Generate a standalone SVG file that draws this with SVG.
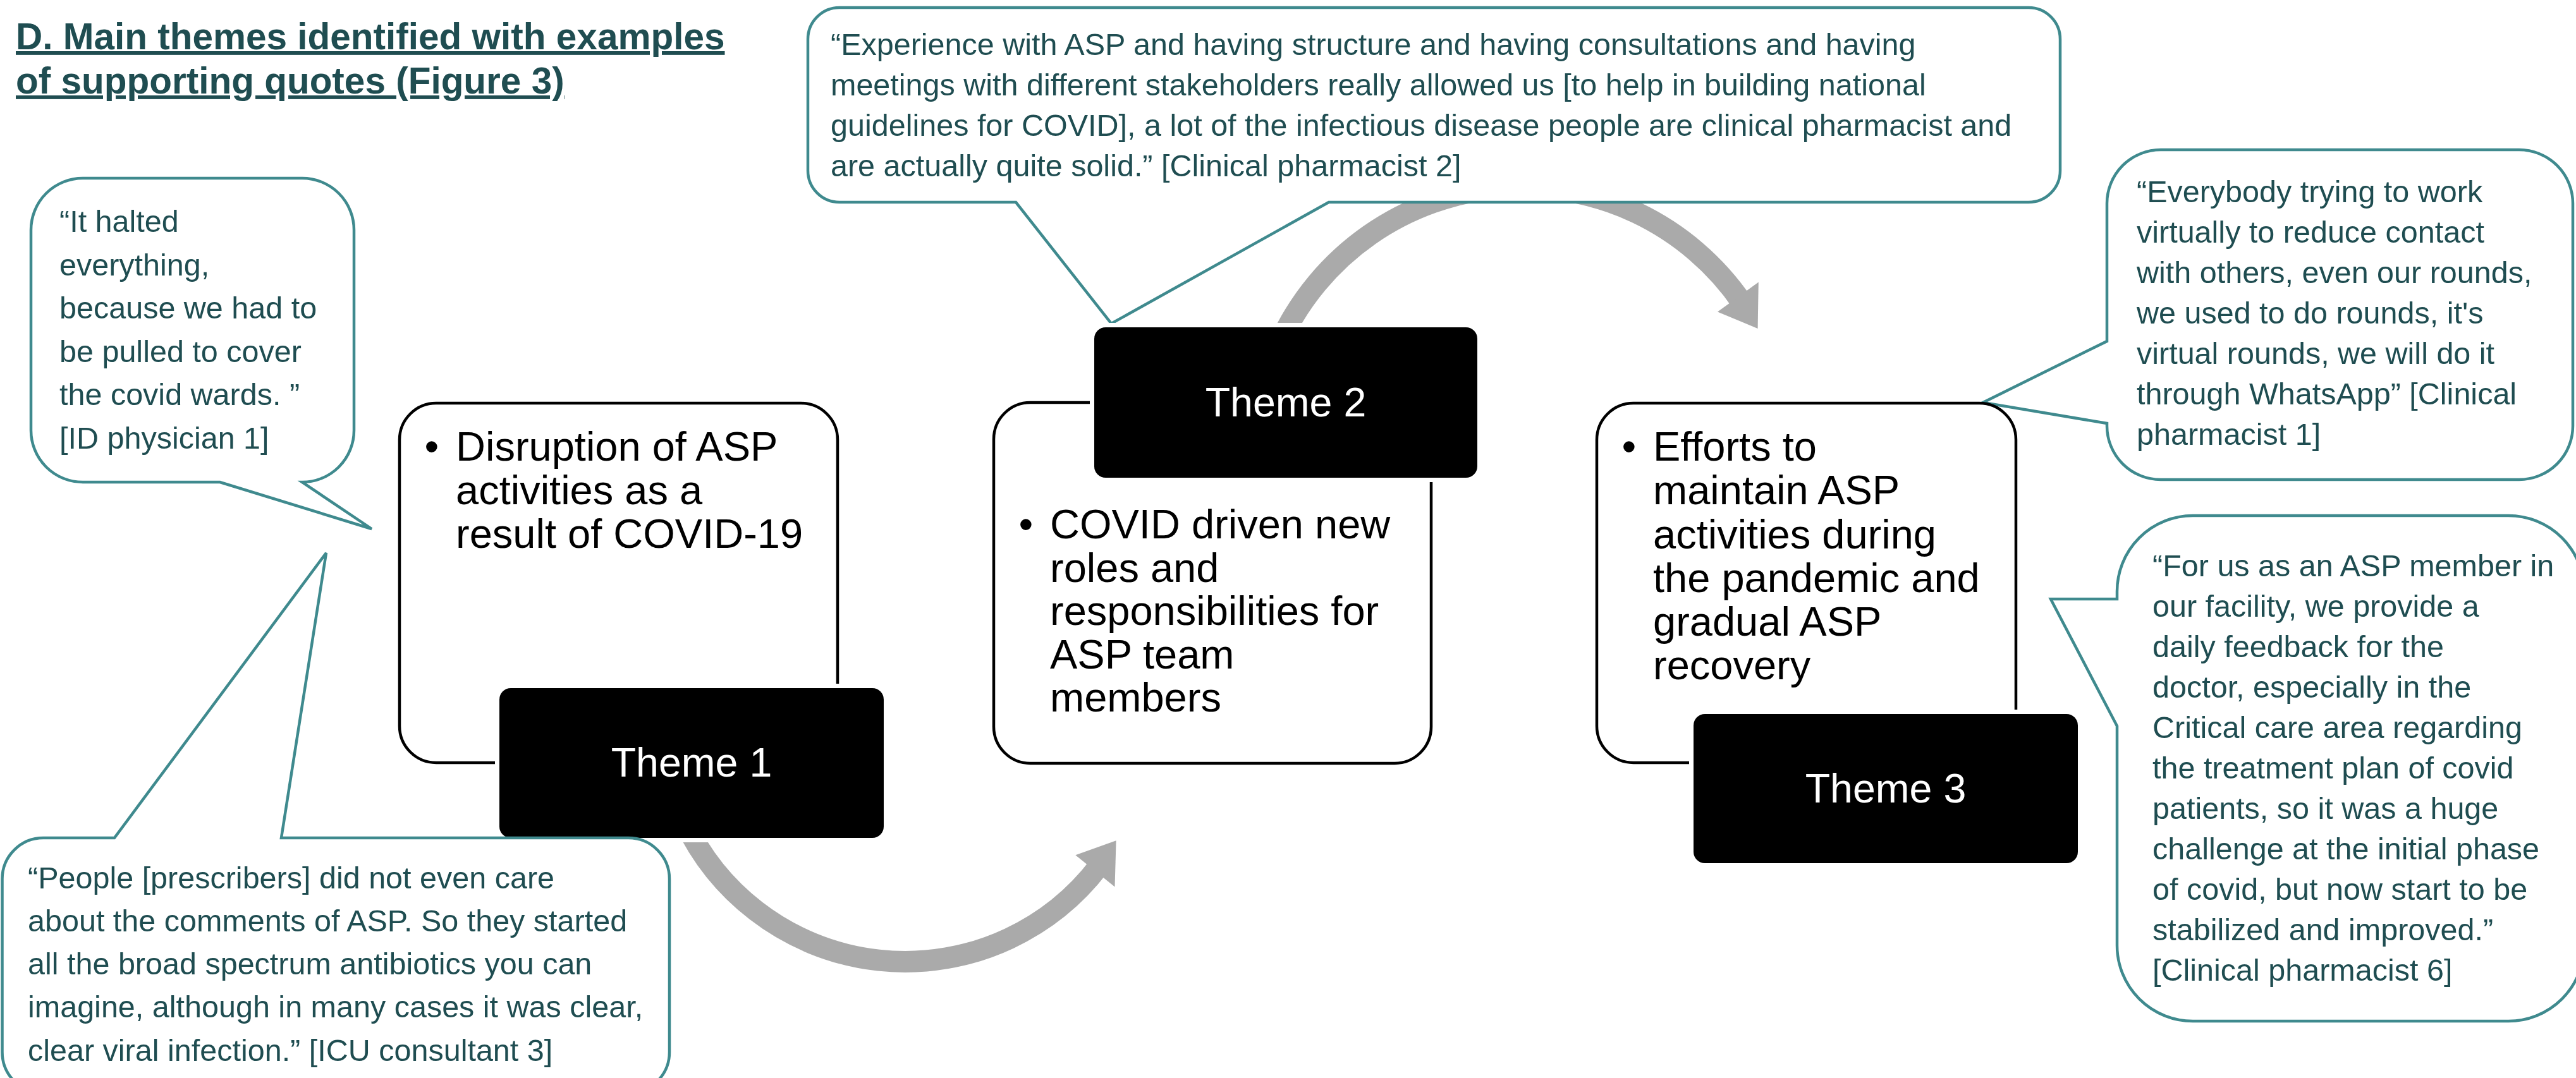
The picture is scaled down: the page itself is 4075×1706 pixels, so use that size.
<svg xmlns="http://www.w3.org/2000/svg" width="4075" height="1706" viewBox="0 0 4075 1706">
<style>
.title{font-family:"Liberation Sans",Arial,sans-serif;font-weight:bold;font-size:58.5px;fill:#1F4D51;text-decoration:underline}
.q{font-family:"Liberation Sans",Arial,sans-serif;font-size:48.5px;fill:#1F4D51}
.bubble{fill:#FFFFFF;stroke:#3F8A8E;stroke-width:4.5;stroke-linejoin:miter}
.wbox{fill:#FFFFFF;stroke:#000000;stroke-width:4.5}
.halo{fill:#FFFFFF}
.bbox{fill:#000000}
.bt{font-family:"Liberation Sans",Arial,sans-serif;font-size:65px;fill:#000000}
.th{font-family:"Liberation Sans",Arial,sans-serif;font-size:64.5px;fill:#FFFFFF;text-anchor:middle}
.arc{fill:none;stroke:#AAAAAA;stroke-width:34}
.head{fill:#AAAAAA}
</style>
<rect x="0" y="0" width="4075" height="1706" fill="#FFFFFF"/>

<g id="title">
<text class="title" x="25" y="78">D. Main themes identified with examples</text>
<text class="title" x="25" y="148">of supporting quotes (Figure 3)</text>
</g>

<g id="connectors">
<path class="arc" d="M 1082.2,1299.1 A 386 386 0 0 0 1738.2,1371.0"/>
<polygon class="head" points="1701.3,1353.3 1765.6,1330.2 1763.5,1403.5"/>
<path class="arc" d="M 2025.5,539.7 A 422 422 0 0 1 2755.8,479.0"/>
<polygon class="head" points="2717.0,493.5 2781.8,446.4 2780.6,519.9"/>
</g>

<g id="quote2">
<path class="bubble" d="M 1328,12 H 3209 A 50 50 0 0 1 3259,62 V 270 A 50 50 0 0 1 3209,320 H 2102 L 1758,512 L 1607,320 H 1328 A 50 50 0 0 1 1278,270 V 62 A 50 50 0 0 1 1328,12 Z"/>
<text class="q">
<tspan x="1314" y="87">“Experience with ASP and having structure and having consultations and having</tspan>
<tspan x="1314" y="151">meetings with different stakeholders really allowed us [to help in building national</tspan>
<tspan x="1314" y="215">guidelines for COVID], a lot of the infectious disease people are clinical pharmacist and</tspan>
<tspan x="1314" y="279">are actually quite solid.” [Clinical pharmacist 2]</tspan>
</text>
</g>

<g id="quote3">
<path class="bubble" d="M 3418,237 H 3985 A 85 85 0 0 1 4070,322 V 674 A 85 85 0 0 1 3985,759 H 3418 A 85 85 0 0 1 3333,674 V 670 L 3137,637 L 3333,540 V 322 A 85 85 0 0 1 3418,237 Z"/>
<text class="q">
<tspan x="3380" y="320">“Everybody trying to work</tspan>
<tspan x="3380" y="384">virtually to reduce contact</tspan>
<tspan x="3380" y="448">with others, even our rounds,</tspan>
<tspan x="3380" y="512">we used to do rounds, it's</tspan>
<tspan x="3380" y="576">virtual rounds, we will do it</tspan>
<tspan x="3380" y="640">through WhatsApp” [Clinical</tspan>
<tspan x="3380" y="704">pharmacist 1]</tspan>
</text>
</g>

<g id="theme1">
<rect class="wbox" x="632" y="638" width="693" height="569" rx="58" ry="58"/>
<text class="bt" x="683" y="729" text-anchor="middle">•</text>
<text class="bt">
<tspan x="721" y="729">Disruption of ASP</tspan>
<tspan x="721" y="798">activities as a</tspan>
<tspan x="721" y="867">result of COVID-19</tspan>
</text>
<rect class="halo" x="783" y="1082" width="622" height="251" rx="25" ry="25"/>
<rect class="bbox" x="790" y="1089" width="608" height="237" rx="18" ry="18"/>
<text class="th" x="1094" y="1229">Theme 1</text>
</g>

<g id="theme2">
<rect class="wbox" x="1572" y="637" width="692" height="571" rx="58" ry="58"/>
<rect class="halo" x="1724" y="511" width="620" height="252" rx="25" ry="25"/>
<rect class="bbox" x="1731" y="518" width="606" height="238" rx="18" ry="18"/>
<text class="th" x="2034" y="659">Theme 2</text>
<text class="bt" x="1623" y="852" text-anchor="middle">•</text>
<text class="bt">
<tspan x="1661" y="852">COVID driven new</tspan>
<tspan x="1661" y="921">roles and</tspan>
<tspan x="1661" y="989">responsibilities for</tspan>
<tspan x="1661" y="1058">ASP team</tspan>
<tspan x="1661" y="1126">members</tspan>
</text>
</g>

<g id="theme3">
<rect class="wbox" x="2526" y="638" width="663" height="569" rx="58" ry="58"/>
<text class="bt" x="2577" y="729" text-anchor="middle">•</text>
<text class="bt">
<tspan x="2615" y="729">Efforts to</tspan>
<tspan x="2615" y="798">maintain ASP</tspan>
<tspan x="2615" y="868">activities during</tspan>
<tspan x="2615" y="937">the pandemic and</tspan>
<tspan x="2615" y="1006">gradual ASP</tspan>
<tspan x="2615" y="1075">recovery</tspan>
</text>
<rect class="halo" x="2672" y="1123" width="622" height="250" rx="25" ry="25"/>
<rect class="bbox" x="2679" y="1130" width="608" height="236" rx="18" ry="18"/>
<text class="th" x="2983" y="1270">Theme 3</text>
</g>

<g id="quote1">
<path class="bubble" d="M 131,282 H 478 A 82 82 0 0 1 560,364 V 681 A 82 82 0 0 1 478,763 L 588,837 L 348,763 H 131 A 82 82 0 0 1 49,681 V 364 A 82 82 0 0 1 131,282 Z"/>
<text class="q">
<tspan x="94" y="367">“It halted</tspan>
<tspan x="94" y="436">everything,</tspan>
<tspan x="94" y="504">because we had to</tspan>
<tspan x="94" y="573">be pulled to cover</tspan>
<tspan x="94" y="641">the covid wards. ”</tspan>
<tspan x="94" y="710">[ID physician 1]</tspan>
</text>
</g>

<g id="quote4">
<path class="bubble" d="M 3469,816 H 3968 A 120 120 0 0 1 4088,936 V 1496 A 120 120 0 0 1 3968,1616 H 3469 A 120 120 0 0 1 3349,1496 V 1149 L 3244,948 L 3349,948 V 936 A 120 120 0 0 1 3469,816 Z"/>
<text class="q">
<tspan x="3405" y="912">“For us as an ASP member in</tspan>
<tspan x="3405" y="976">our facility, we provide a</tspan>
<tspan x="3405" y="1040">daily feedback for the</tspan>
<tspan x="3405" y="1104">doctor, especially in the</tspan>
<tspan x="3405" y="1168">Critical care area regarding</tspan>
<tspan x="3405" y="1232">the treatment plan of covid</tspan>
<tspan x="3405" y="1296">patients, so it was a huge</tspan>
<tspan x="3405" y="1360">challenge at the initial phase</tspan>
<tspan x="3405" y="1424">of covid, but now start to be</tspan>
<tspan x="3405" y="1488">stabilized and improved.”</tspan>
<tspan x="3405" y="1552">[Clinical pharmacist 6]</tspan>
</text>
</g>

<g id="quote5">
<path class="bubble" d="M 68.5,1326 H 181 L 516,875 L 445,1326 H 994 A 65 65 0 0 1 1059,1391 V 1665 A 65 65 0 0 1 994,1730 H 68.5 A 65 65 0 0 1 3.5,1665 V 1391 A 65 65 0 0 1 68.5,1326 Z"/>
<text class="q">
<tspan x="44" y="1406">“People [prescribers] did not even care</tspan>
<tspan x="44" y="1474">about the comments of ASP. So they started</tspan>
<tspan x="44" y="1542">all the broad spectrum antibiotics you can</tspan>
<tspan x="44" y="1610">imagine, although in many cases it was clear,</tspan>
<tspan x="44" y="1679">clear viral infection.” [ICU consultant 3]</tspan>
</text>
</g>
</svg>
